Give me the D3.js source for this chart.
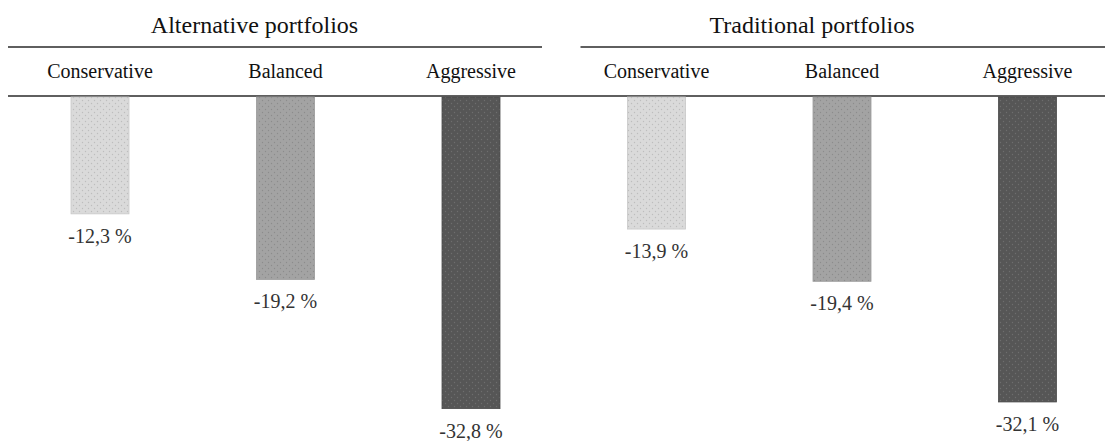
<!DOCTYPE html>
<html>
<head>
<meta charset="utf-8">
<script src="https://cdn.jsdelivr.net/npm/d3@7"></script>
<style>
  html, body { margin: 0; padding: 0; background: #fff; }
  svg { display: block; }
  text { font-family: "Liberation Serif", "Times New Roman", serif; }
</style>
</head>
<body>
<svg id="chart" width="1105" height="441"></svg>
<script>
// ---- data ----
const groups = ["Alternative portfolios", "Traditional portfolios"];
const profiles = ["Conservative", "Balanced", "Aggressive"];
const alternativeValues = [-12.3, -19.2, -32.8];
const traditionalValues = [-13.9, -19.4, -32.1];
const yDomain = [0, -35];

const seriesByGroup = [alternativeValues, traditionalValues];
const rows = [];
groups.forEach((g, gi) => profiles.forEach((p, pi) => rows.push({
  group: g, gi, profile: p, pi, key: g + "|" + p, value: seriesByGroup[gi][pi]
})));

const svg = d3.select("#chart");
const W = 1105, H = 441;

const x = d3.scalePoint().domain(rows.map(d => d.key)).range([7.25, 1120.25]).padding(0.5);
const y = d3.scaleLinear().domain(yDomain).range([97, 429.5]);
const barW = 58;

const fmtLocale = d3.formatLocale({decimal: ",", thousands: " ", grouping: [3], currency: ["", ""], minus: "-"});
const fmt = fmtLocale.format(".1f");

// patterns
const fills = [
  {id: "p0", bg: "#dadada", dot: "#bdbdbd", stroke: "#c8c8c8"},
  {id: "p1", bg: "#a3a3a3", dot: "#8c8c8c", stroke: "#9a9a9a"},
  {id: "p2", bg: "#565656", dot: "#6e6e6e", stroke: "#4a4a4a"}
];
const defs = svg.append("defs");
fills.forEach(f => {
  const pat = defs.append("pattern").attr("id", f.id).attr("patternUnits", "userSpaceOnUse")
    .attr("width", 6).attr("height", 6);
  pat.append("rect").attr("width", 6).attr("height", 6).attr("fill", f.bg);
  pat.append("circle").attr("cx", 1.5).attr("cy", 1.5).attr("r", 0.7).attr("fill", f.dot);
  pat.append("circle").attr("cx", 4.5).attr("cy", 4.5).attr("r", 0.7).attr("fill", f.dot);
});

// group header lines
const lineColor = "#2a2a2a";
groups.forEach((g, gi) => {
  const keys = rows.filter(d => d.gi === gi).map(d => d.key);
  const x0 = gi === 0 ? x(keys[0]) - 92 : x(keys[0]) - 76;
  const x1 = gi === 0 ? x(keys[2]) + 71 : W;
  svg.append("line").attr("x1", x0).attr("x2", x1).attr("y1", 47).attr("y2", 47)
    .attr("stroke", lineColor).attr("stroke-width", 1.5);
  svg.append("text").attr("x", x(keys[1]) + (gi === 0 ? -31 : -30)).attr("y", 33)
    .attr("text-anchor", "middle").attr("font-size", 24).attr("fill", "#111").text(g);
});

// category line
svg.append("line").attr("x1", 8).attr("x2", W).attr("y1", 96).attr("y2", 96)
  .attr("stroke", lineColor).attr("stroke-width", 1.5);

// category labels
svg.selectAll("text.cat").data(rows).join("text").attr("class", "cat")
  .attr("x", d => x(d.key)).attr("y", 78).attr("text-anchor", "middle")
  .attr("font-size", 20).attr("fill", "#111").text(d => d.profile);

// bars
svg.selectAll("rect.bar").data(rows).join("rect").attr("class", "bar")
  .attr("x", d => x(d.key) - barW / 2).attr("width", barW)
  .attr("y", y(0)).attr("height", d => y(d.value) - y(0))
  .attr("fill", d => `url(#${fills[d.pi].id})`)
  .attr("stroke", d => fills[d.pi].stroke).attr("stroke-width", 0.8);

// value labels
svg.selectAll("text.val").data(rows).join("text").attr("class", "val")
  .attr("x", d => x(d.key)).attr("y", d => y(d.value) + 29).attr("text-anchor", "middle")
  .attr("font-size", 20).attr("fill", "#333").text(d => fmt(d.value) + " %");
</script>
</body>
</html>
